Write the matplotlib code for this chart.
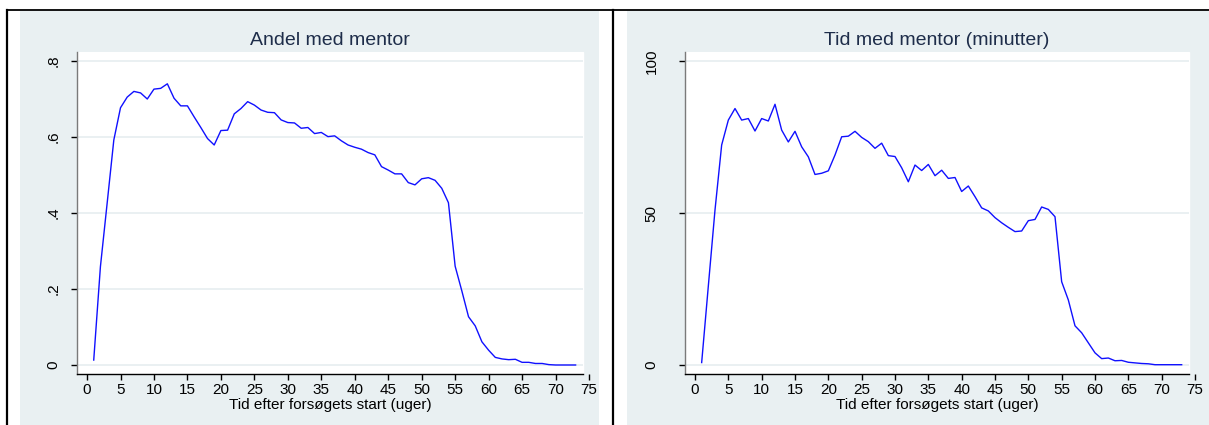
"""
    Andel og tid med mentor over uger efter forsøgets start
"""

import matplotlib
matplotlib.use("Agg")
import matplotlib.pyplot as plt
from matplotlib.patches import Rectangle
from matplotlib.lines import Line2D

plt.rcParams['font.family'] = ['Liberation Sans', 'DejaVu Sans']

# data
weeks = list(range(1, 74))

andel = [0.013, 0.259, 0.425, 0.592, 0.677, 0.705, 0.720, 0.716, 0.700, 0.726,
         0.728, 0.740, 0.702, 0.682, 0.682, 0.653, 0.625, 0.596, 0.579, 0.617,
         0.618, 0.661, 0.675, 0.693, 0.684, 0.671, 0.665, 0.664, 0.645, 0.638,
         0.637, 0.623, 0.625, 0.609, 0.612, 0.601, 0.603, 0.590, 0.579, 0.573,
         0.568, 0.559, 0.553, 0.522, 0.513, 0.503, 0.503, 0.480, 0.474, 0.490,
         0.493, 0.486, 0.465, 0.427, 0.260, 0.195, 0.127, 0.103, 0.061, 0.039,
         0.020, 0.016, 0.014, 0.015, 0.007, 0.007, 0.004, 0.004, 0.001, 0.0,
         0.0, 0.0, 0.0]

tid = [0.8, 26.0, 51.0, 72.4, 80.6, 84.4, 80.6, 81.1, 77.0, 81.1,
       80.3, 85.8, 77.3, 73.4, 76.9, 71.8, 68.5, 62.7, 63.1, 63.9,
       69.1, 75.1, 75.3, 76.9, 74.9, 73.5, 71.3, 73.0, 68.9, 68.6,
       64.9, 60.3, 65.8, 64.0, 66.0, 62.3, 64.1, 61.4, 61.7, 57.1,
       58.9, 55.4, 51.7, 50.7, 48.5, 46.8, 45.3, 43.9, 44.1, 47.5,
       47.9, 52.0, 51.2, 48.8, 27.4, 21.4, 12.9, 10.6, 7.3, 4.0,
       2.1, 2.3, 1.4, 1.5, 0.9, 0.7, 0.5, 0.4, 0.1, 0.1,
       0.1, 0.1, 0.1]

xticks = [0, 5, 10, 15, 20, 25, 30, 35, 40, 45, 50, 55, 60, 65, 70, 75]
andel_ticks = [0, 0.2, 0.4, 0.6, 0.8]
andel_labels = ['0', '.2', '.4', '.6', '.8']
tid_ticks = [0, 50, 100]
tid_labels = ['0', '50', '100']

W, H = 1209, 425
BG = '#E9F0F2'
GRID = '#E6EEF0'
TITLE = '#1E2D4A'

fig = plt.figure(figsize=(W / 100, H / 100), dpi=100)


def box(x0, y0, x1, y1):
    # pixel box -> figure fraction [left, bottom, width, height]
    return [x0 / W, 1 - y1 / H, (x1 - x0) / W, (y1 - y0) / H]


# panel backgrounds
for x0, x1 in [(20, 599), (627, 1209)]:
    l, b, w, h = box(x0, 11, x1, 425)
    fig.add_artist(Rectangle((l, b), w, h, transform=fig.transFigure,
                             facecolor=BG, edgecolor='none', zorder=-1))

# black frame lines
fig.add_artist(Line2D([7 / W, 1], [1 - 10 / H, 1 - 10 / H], color='black', lw=1.3))
fig.add_artist(Line2D([7 / W, 7 / W], [0, 1 - 10 / H], color='black', lw=1.6))
fig.add_artist(Line2D([613 / W, 613 / W], [0, 1 - 10 / H], color='black', lw=1.6))


def panel(rect, y, ticks, labels, ylim, title, ypad):
    ax = fig.add_axes(rect)
    ax.set_facecolor(BG)
    xl, xr = -1.5, 74.1
    ax.set_xlim(-1.5, 75.3)
    ax.set_ylim(*ylim)
    ax.axvspan(xl, xr, color='white', zorder=0)
    ax.hlines(ticks, xl, xr, color=GRID, lw=1.2, zorder=0.5)
    ax.plot(weeks, y, color='#1010FF', lw=1.0, zorder=2)

    for s in ['top', 'right']:
        ax.spines[s].set_visible(False)
    ax.spines['bottom'].set_bounds(xl, xr)
    ax.spines['bottom'].set_color('black')
    ax.spines['left'].set_color('#7A7A7A')
    ax.spines['bottom'].set_linewidth(1.0)
    ax.spines['left'].set_linewidth(1.0)

    ax.set_xticks(xticks)
    ax.set_xticklabels([str(t) for t in xticks])
    ax.set_yticks(ticks)
    ax.set_yticklabels(labels, rotation=90, va='center')
    ax.tick_params(axis='x', length=4, width=1, pad=2.5, labelsize=11)
    ax.tick_params(axis='y', length=4, width=1, pad=ypad, labelsize=11)

    cx = (330 - 77) / (591 - 77)
    ax.set_xlabel('Tid efter forsøgets start (uger)', fontsize=11, labelpad=-2)
    ax.xaxis.set_label_coords(cx, -0.075)
    ax.xaxis.label.set_va('top')
    ax.text(cx, 1 + 7 / 322, title, transform=ax.transAxes, ha='center',
            va='baseline', fontsize=14, color=TITLE)
    return ax


panel(box(77, 52, 591, 374), andel, andel_ticks, andel_labels,
      (-0.0237, 0.8237), 'Andel med mentor', 8)
panel(box(685, 52, 1197, 374), tid, tid_ticks, tid_labels,
      (-2.96, 103.0), 'Tid med mentor (minutter)', 15)

fig.savefig('out.png', dpi=100)
